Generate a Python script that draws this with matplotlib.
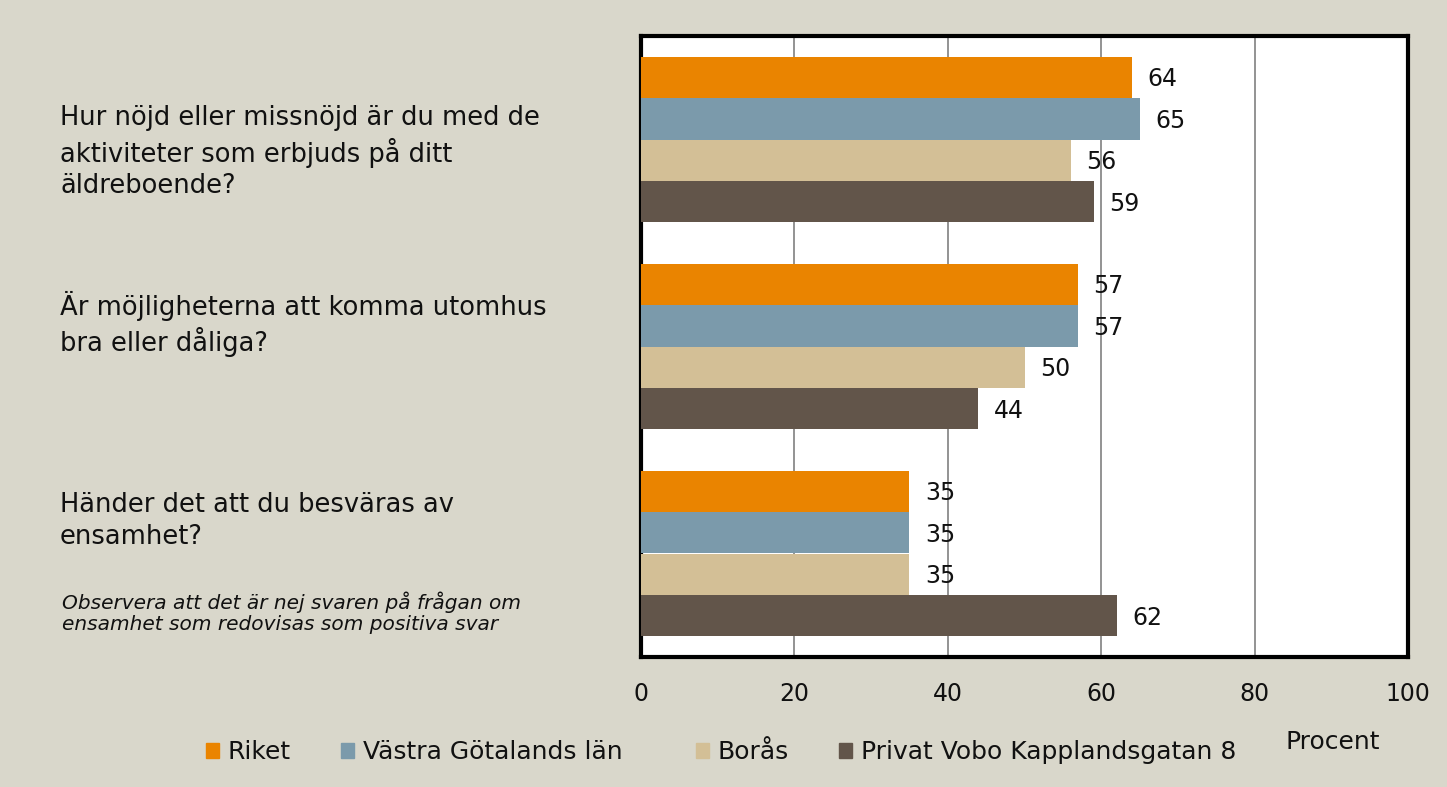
import matplotlib
matplotlib.use("Agg")
import matplotlib.pyplot as plt
import matplotlib.patches as mpatches
import numpy as np

categories = [
    "Hur nöjd eller missnöjd är du med de\naktiviteter som erbjuds på ditt\näldreboende?",
    "Är möjligheterna att komma utomhus\nbra eller dåliga?",
    "Händer det att du besväras av\nensamhet?",
]
series_names = ["Riket", "Västra Götalands län", "Borås", "Privat Vobo Kapplandsgatan 8"]
riket = [64, 57, 35]
vgl = [65, 57, 35]
boras = [56, 50, 35]
vobo = [59, 44, 62]
xticks = [0, 20, 40, 60, 80, 100]
note = "Observera att det är nej svaren på frågan om\nensamhet som redovisas som positiva svar"

colors = ["#EA8400", "#7B9AAB", "#D3BF96", "#62554A"]
bg = "#D9D7CB"
txt = "#111111"

plt.rcParams['font.family'] = ['DejaVu Sans']
fig = plt.figure(figsize=(14.47, 7.87), dpi=100, facecolor=bg)
ax = fig.add_axes([641/1447, 1-657/787, (1408-641)/1447, (657-36)/787])
ax.set_facecolor("white")

data = [riket, vgl, boras, vobo]
offsets = [-0.3, -0.1, 0.1, 0.3]
y = np.arange(len(categories))
for vals, off, c, name in zip(data, offsets, colors, series_names):
    ax.barh(y + off, vals, height=0.2, color=c, label=name, zorder=3)
    for yy, v in zip(y + off, vals):
        ax.text(v + 2.0, yy + 0.01, f"{v}", va="center", ha="left", fontsize=17, color=txt, zorder=4)

ax.set_xlim(0, 100)
ax.set_ylim(len(categories) - 0.5, -0.5)
ax.set_xticks(xticks)
ax.set_xticklabels([str(t) for t in xticks], fontsize=17, color=txt)
ax.tick_params(axis='x', length=0, pad=18)
ax.set_yticks([])
ax.grid(axis='x', color="#8a8a8a", linewidth=1.3, zorder=1)
for s in ax.spines.values():
    s.set_linewidth(3)
    s.set_color("black")

# category labels
label_ys = [152, 324, 521]
for lab, py in zip(categories, label_ys):
    fig.text(60/1447, 1-py/787, lab, ha="left", va="center", fontsize=18.5, color=txt, linespacing=1.25)
fig.text(62/1447, 1-613/787, note, ha="left", va="center", fontsize=14.5, style="italic", color=txt, linespacing=1.15)

# legend entries placed at reference positions
leg_x = [198, 333, 688, 831]
for name, c, lx in zip(series_names, colors, leg_x):
    h = mpatches.Patch(color=c, label=name)
    leg = fig.legend(handles=[h], loc="center left", bbox_to_anchor=(lx/1447, 1-752/787), frameon=False,
                     fontsize=18, handlelength=0.55, handleheight=0.55, handletextpad=0.35,
                     borderaxespad=0, borderpad=0.3)
    for t in leg.get_texts():
        t.set_color(txt)
fig.text(1286/1447, 1-742/787, "Procent", ha="left", va="center", fontsize=18, color=txt)

fig.savefig("out.png", dpi=100, facecolor=bg)
